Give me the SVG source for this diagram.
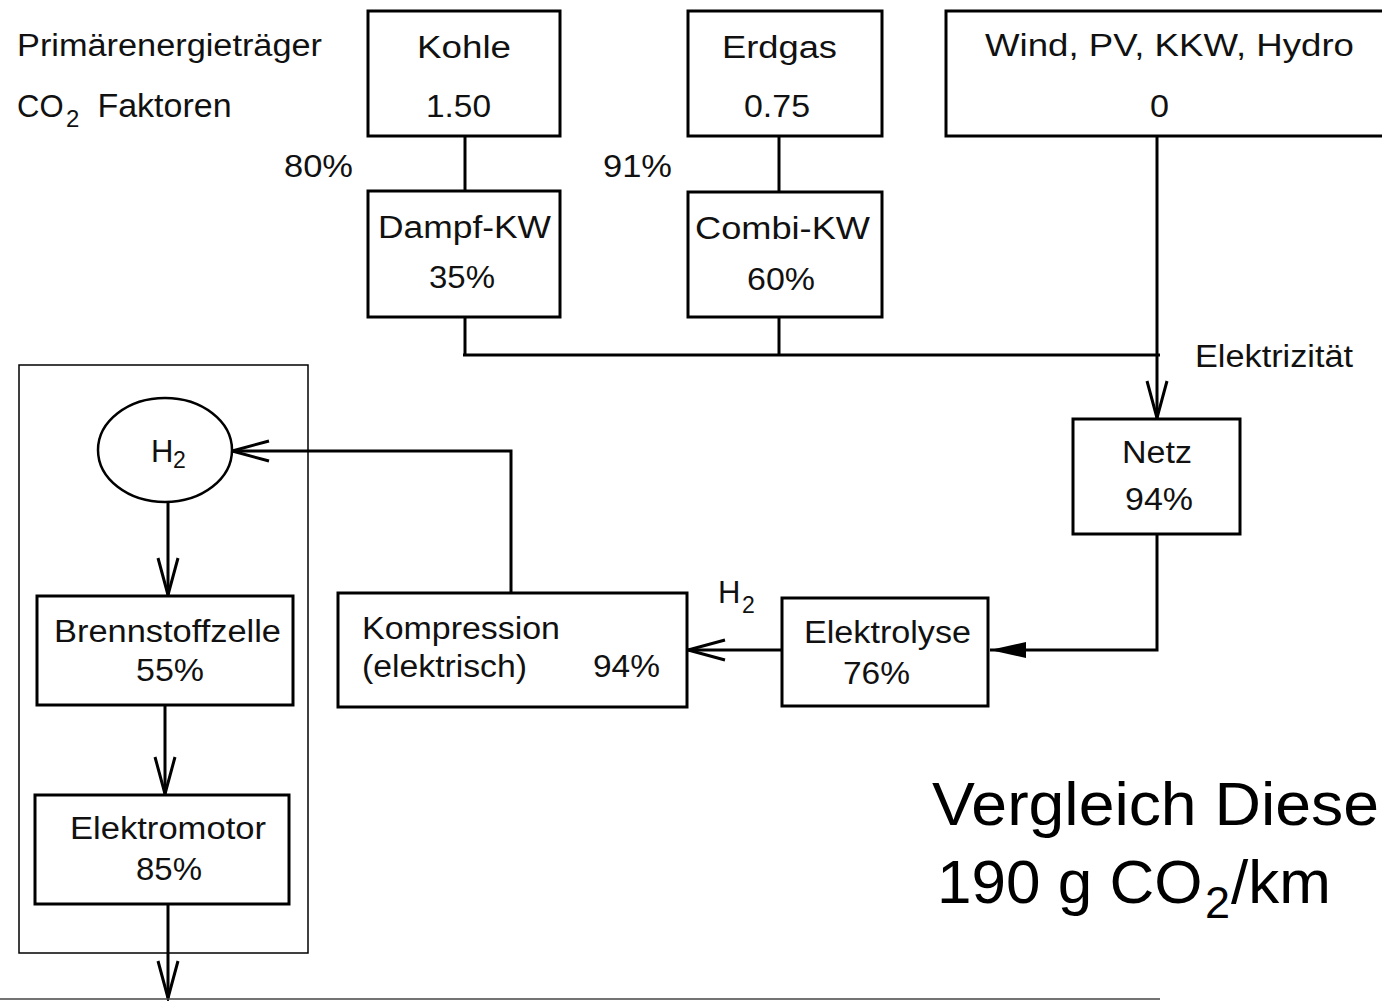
<svg xmlns="http://www.w3.org/2000/svg" width="1382" height="1001" viewBox="0 0 1382 1001">
<style>
  .box{fill:#fff;stroke:#000;stroke-width:3}
  .line{fill:none;stroke:#000;stroke-width:3}
  .t{font-family:"Liberation Sans",Arial,sans-serif;font-size:31px;fill:#111}
  .big{font-family:"Liberation Sans",Arial,sans-serif;font-size:62px;fill:#000}
</style>
<defs>
  <marker id="open" markerUnits="userSpaceOnUse" viewBox="-42 -13 46 26" refX="0" refY="0" markerWidth="46" markerHeight="26" orient="auto" overflow="visible">
    <path d="M-37,-10 L0,0 L-37,10" fill="none" stroke="#000" stroke-width="3"/>
  </marker>
  <marker id="filled" markerUnits="userSpaceOnUse" viewBox="-40 -10 42 20" refX="0" refY="0" markerWidth="42" markerHeight="20" orient="auto" overflow="visible">
    <path d="M-36,-8 L0,0 L-36,8 Z" fill="#000"/>
  </marker>
</defs>
<rect width="1382" height="1001" fill="#fff"/>

<g id="labels">
  <text class="t" x="17" y="56" textLength="305" lengthAdjust="spacingAndGlyphs">Primärenergieträger</text>
  <text class="t" x="17" y="117">CO<tspan x="66" dy="10" font-size="24">2</tspan><tspan x="88" dy="-10" font-size="34"> Faktoren</tspan></text>
  <text class="t" x="284" y="177" textLength="69" lengthAdjust="spacingAndGlyphs">80%</text>
  <text class="t" x="603" y="177" textLength="69" lengthAdjust="spacingAndGlyphs">91%</text>
  <text class="t" x="1195" y="367" textLength="158" lengthAdjust="spacingAndGlyphs">Elektrizität</text>
  <text class="t" x="718" y="603" font-size="28">H<tspan x="742" dy="10" font-size="23">2</tspan></text>
</g>

<g id="container">
  <rect x="19" y="365" width="289" height="588" fill="none" stroke="#000" stroke-width="1.5"/>
</g>

<g id="connectors">
  <line class="line" x1="465" y1="136" x2="465" y2="191"/>
  <line class="line" x1="779" y1="136" x2="779" y2="192"/>
  <line class="line" x1="465" y1="317" x2="465" y2="356"/>
  <line class="line" x1="779" y1="317" x2="779" y2="356"/>
  <line class="line" x1="463" y1="355" x2="1160" y2="355"/>
  <line class="line" x1="1157" y1="136" x2="1157" y2="418" marker-end="url(#open)"/>
  <polyline class="line" points="1157,534 1157,650 990,650" marker-end="url(#filled)"/>
  <line class="line" x1="782" y1="650" x2="688" y2="650" marker-end="url(#open)"/>
  <polyline class="line" points="511,593 511,451 232,451" marker-end="url(#open)"/>
  <line class="line" x1="168" y1="502" x2="168" y2="595" marker-end="url(#open)"/>
  <line class="line" x1="165" y1="705" x2="165" y2="794" marker-end="url(#open)"/>
  <line class="line" x1="168" y1="904" x2="168" y2="998" marker-end="url(#open)"/>
  <line x1="0" y1="999" x2="1160" y2="999" stroke="#444" stroke-width="1.5"/>
</g>

<g id="kohle">
  <rect class="box" x="368" y="11" width="192" height="125"/>
  <text class="t" x="417" y="58" textLength="94" lengthAdjust="spacingAndGlyphs">Kohle</text>
  <text class="t" x="426" y="117" textLength="65" lengthAdjust="spacingAndGlyphs">1.50</text>
</g>

<g id="erdgas">
  <rect class="box" x="688" y="11" width="194" height="125"/>
  <text class="t" x="722" y="58" textLength="115" lengthAdjust="spacingAndGlyphs">Erdgas</text>
  <text class="t" x="744" y="117" textLength="66" lengthAdjust="spacingAndGlyphs">0.75</text>
</g>

<g id="erneuerbar">
  <rect class="box" x="946" y="11" width="460" height="125"/>
  <text class="t" x="985" y="56" textLength="369" lengthAdjust="spacingAndGlyphs">Wind, PV, KKW, Hydro</text>
  <text class="t" x="1150" y="117" textLength="19" lengthAdjust="spacingAndGlyphs">0</text>
</g>

<g id="dampf-kw">
  <rect class="box" x="368" y="191" width="192" height="126"/>
  <text class="t" x="378" y="238" textLength="173" lengthAdjust="spacingAndGlyphs">Dampf-KW</text>
  <text class="t" x="429" y="288" textLength="66" lengthAdjust="spacingAndGlyphs">35%</text>
</g>

<g id="combi-kw">
  <rect class="box" x="688" y="192" width="194" height="125"/>
  <text class="t" x="695" y="239" textLength="175" lengthAdjust="spacingAndGlyphs">Combi-KW</text>
  <text class="t" x="747" y="290" textLength="68" lengthAdjust="spacingAndGlyphs">60%</text>
</g>

<g id="netz">
  <rect class="box" x="1073" y="419" width="167" height="115"/>
  <text class="t" x="1122" y="463" textLength="70" lengthAdjust="spacingAndGlyphs">Netz</text>
  <text class="t" x="1125" y="510" textLength="68" lengthAdjust="spacingAndGlyphs">94%</text>
</g>

<g id="elektrolyse">
  <rect class="box" x="782" y="598" width="206" height="108"/>
  <text class="t" x="804" y="643" textLength="167" lengthAdjust="spacingAndGlyphs">Elektrolyse</text>
  <text class="t" x="843" y="684" textLength="67" lengthAdjust="spacingAndGlyphs">76%</text>
</g>

<g id="kompression">
  <rect class="box" x="338" y="593" width="349" height="114"/>
  <text class="t" x="362" y="639" textLength="198" lengthAdjust="spacingAndGlyphs">Kompression</text>
  <text class="t" x="362" y="677" textLength="165" lengthAdjust="spacingAndGlyphs">(elektrisch)</text>
  <text class="t" x="593" y="677" textLength="67" lengthAdjust="spacingAndGlyphs">94%</text>
</g>

<g id="h2-tank">
  <ellipse cx="165" cy="450" rx="67" ry="52" fill="#fff" stroke="#000" stroke-width="2.5"/>
  <text class="t" x="151" y="462" font-size="30">H<tspan x="173" dy="6" font-size="23">2</tspan></text>
</g>

<g id="brennstoffzelle">
  <rect class="box" x="37" y="596" width="256" height="109"/>
  <text class="t" x="54" y="642" textLength="227" lengthAdjust="spacingAndGlyphs">Brennstoffzelle</text>
  <text class="t" x="136" y="681" textLength="68" lengthAdjust="spacingAndGlyphs">55%</text>
</g>

<g id="elektromotor">
  <rect class="box" x="35" y="795" width="254" height="109"/>
  <text class="t" x="70" y="839" textLength="196" lengthAdjust="spacingAndGlyphs">Elektromotor</text>
  <text class="t" x="136" y="880" textLength="66" lengthAdjust="spacingAndGlyphs">85%</text>
</g>

<g id="vergleich">
  <text class="big" x="932" y="825" textLength="447" lengthAdjust="spacingAndGlyphs">Vergleich Diese</text>
  <text class="big" x="937" y="903">190 g CO<tspan x="1205" dy="15" font-size="45">2</tspan><tspan x="1231" dy="-15">/km</tspan></text>
</g>
</svg>
